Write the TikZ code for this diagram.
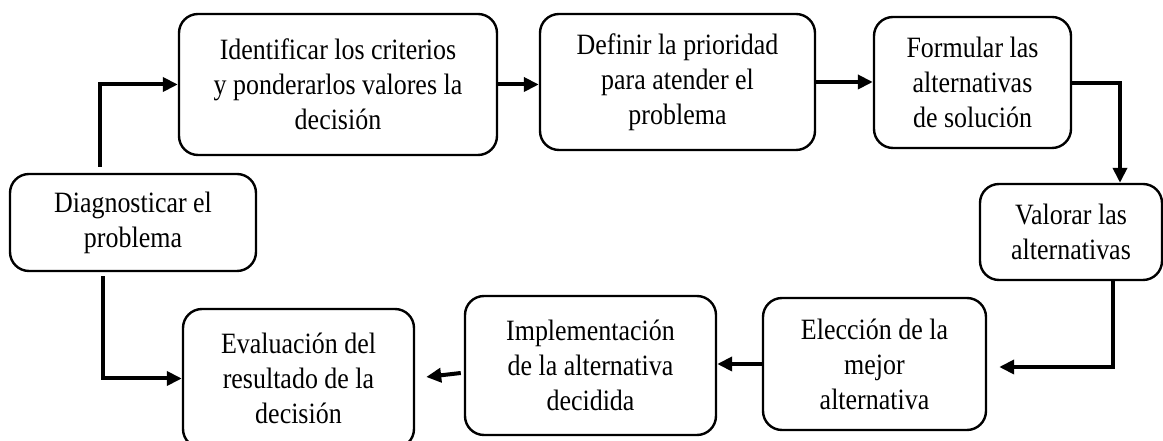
\documentclass[tikz,border=0pt]{standalone}
\usepackage{fontspec}
\setmainfont[FakeStretch=0.88]{Liberation Serif}
\usetikzlibrary{arrows.meta,calc}
\begin{document}
\begin{tikzpicture}[x=1pt,y=1pt,
  box/.style={draw, line width=2.4pt, rounded corners=19pt, align=center,
    inner sep=0pt, font=\fontsize{29.5}{35}\selectfont},
  arr/.style={line width=4pt, -{Triangle[length=15pt,width=14pt]}}]
\useasboundingbox (0,0) rectangle (1163,441);
\node[box, minimum width=246pt, minimum height=97pt] (diag) at (133,218.5) {Diagnosticar el\\problema};
\node[box, minimum width=318pt, minimum height=141pt] (ident) at (338,356.5) {Identificar los criterios\\y ponderarlos valores la\\decisión};
\node[box, minimum width=275pt, minimum height=136pt] (defin) at (677.5,359) {Definir la prioridad\\para atender el\\problema};
\node[box, minimum width=197pt, minimum height=131pt] (formu) at (972.5,358.5) {Formular las\\alternativas\\de solución};
\node[box, minimum width=182pt, minimum height=96pt] (valor) at (1071,209) {Valorar las\\alternativas};
\node[box, minimum width=223pt, minimum height=132pt] (elecc) at (874.5,77) {Elección de la\\mejor\\alternativa};
\node[box, minimum width=251pt, minimum height=139pt] (imple) at (590.5,75.5) {Implementación\\de la alternativa\\decidida};
\node[box, minimum width=231pt, minimum height=139pt] (evalu) at (298.5,62.5) {Evaluación del\\resultado de la\\decisión};
\draw[arr] ([xshift=-33pt,yshift=6pt]diag.north) |- (ident.west);
\draw[arr] (ident.east) -- (ident.east -| defin.west);
\draw[arr] (defin.east) -- (defin.east -| formu.west);
\draw[arr] ([yshift=-1pt]formu.east) -| ([xshift=49pt]valor.north);
\draw[arr] ([xshift=42pt]valor.south) |- ([xshift=12pt,yshift=-3pt]elecc.east);
\draw[arr] (elecc.west) -- (elecc.west -| imple.east);
\draw[arr] ([xshift=-3pt,yshift=-7.5pt]imple.west) -- ([xshift=11pt,yshift=1.5pt]evalu.east);
\draw[arr] ([xshift=-30pt,yshift=-4pt]diag.south) |- (evalu.west);
\end{tikzpicture}
\end{document}
